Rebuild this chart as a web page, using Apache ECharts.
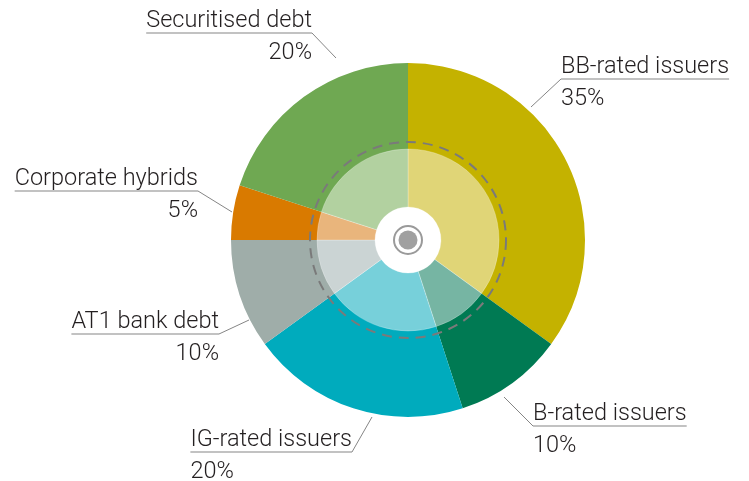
<!DOCTYPE html>
<html>
<head>
<meta charset="utf-8">
<script src="https://cdn.jsdelivr.net/npm/echarts@6/dist/echarts.min.js"></script>
<style>
  html, body { margin: 0; padding: 0; background: #fff; }
  #chart { width: 749px; height: 481px; }
</style>
</head>
<body>
<div id="chart"></div>
<script>
// data
var categories = ['BB-rated issuers', 'B-rated issuers', 'IG-rated issuers', 'AT1 bank debt', 'Corporate hybrids', 'Securitised debt'];
var shares = [35, 10, 20, 10, 5, 20];

// colours: outer ring and lighter inner disc
var outerColors = ['#c4b200', '#007a53', '#00abbd', '#9fada9', '#d97a00', '#6fa852'];
var innerColors = ['#e0d577', '#76b5a3', '#77d0da', '#cbd4d4', '#e9b57c', '#b2d1a0'];

// label placement: leader start, elbow (where underline begins), which end of the text the elbow sits on
var labelPos = [
  { start: [531, 107], elbow: [561, 79], attach: 'left', text: 'left' },
  { start: [504, 397], elbow: [533, 426], attach: 'left', text: 'left' },
  { start: [372, 417], elbow: [352, 452], attach: 'right', text: 'left' },
  { start: [249, 320], elbow: [219, 334], attach: 'right', text: 'right' },
  { start: [232, 212], elbow: [198, 191], attach: 'right', text: 'right' },
  { start: [336, 58], elbow: [312, 33], attach: 'right', text: 'right' }
];

var cx = 408, cy = 240;
var fs = 23.5;
var chart = echarts.init(document.getElementById('chart'));

var outerData = categories.map(function (c, i) {
  return { name: c, value: shares[i], itemStyle: { color: outerColors[i] } };
});
var innerData = categories.map(function (c, i) {
  return { name: c, value: shares[i], itemStyle: { color: innerColors[i] } };
});

var option = {
  animation: false,
  series: [
    {
      type: 'pie',
      center: [cx, cy],
      radius: [90, 177],
      startAngle: 90,
      clockwise: true,
      avoidLabelOverlap: false,
      silent: true,
      data: outerData,
      label: {
        show: true,
        position: 'outer',
        color: '#231f20',
        fontFamily: 'Roboto',
        fontWeight: 300,
        formatter: function (p) {
          var t = labelPos[p.dataIndex].text === 'right' ? 'vr' : 'vl';
          return '{n|' + p.name + '}\n{' + t + '|' + p.value + '%}';
        },
        rich: {
          n: { fontSize: fs, lineHeight: 26, fontFamily: 'Roboto', fontWeight: 300, color: '#231f20' },
          vl: { fontSize: fs, lineHeight: 38, fontFamily: 'Roboto', fontWeight: 300, color: '#231f20', align: 'left' },
          vr: { fontSize: fs, lineHeight: 38, fontFamily: 'Roboto', fontWeight: 300, color: '#231f20', align: 'right' }
        }
      },
      labelLine: {
        show: true,
        lineStyle: { color: '#858585', width: 1 }
      },
      labelLayout: function (p) {
        var L = labelPos[p.dataIndex];
        var w = p.labelRect.width;
        var x0 = L.attach === 'right' ? L.elbow[0] - w : L.elbow[0];
        var xEnd = L.attach === 'right' ? x0 : x0 + w;
        return {
          x: x0,
          y: L.elbow[1] - 25,
          align: 'left',
          verticalAlign: 'top',
          labelLinePoints: [L.start, L.elbow, [xEnd, L.elbow[1]]]
        };
      }
    },
    {
      type: 'pie',
      center: [cx, cy],
      radius: [33, 91],
      startAngle: 90,
      clockwise: true,
      silent: true,
      label: { show: false },
      labelLine: { show: false },
      itemStyle: { borderColor: 'rgba(255,255,255,0.5)', borderWidth: 0.5 },
      data: innerData
    }
  ],
  graphic: [
    {
      type: 'circle', z: 100,
      shape: { cx: cx, cy: cy, r: 98 },
      style: { fill: 'none', stroke: '#7a7a7a', lineWidth: 2, lineDash: [10, 7] }
    },
    {
      type: 'circle', z: 100,
      shape: { cx: cx, cy: cy, r: 14 },
      style: { fill: '#fff', stroke: '#9a9a9a', lineWidth: 2 }
    },
    {
      type: 'circle', z: 100,
      shape: { cx: cx, cy: cy, r: 9.5 },
      style: { fill: '#a0a0a0' }
    }
  ]
};

chart.setOption(option);
</script>
</body>
</html>
